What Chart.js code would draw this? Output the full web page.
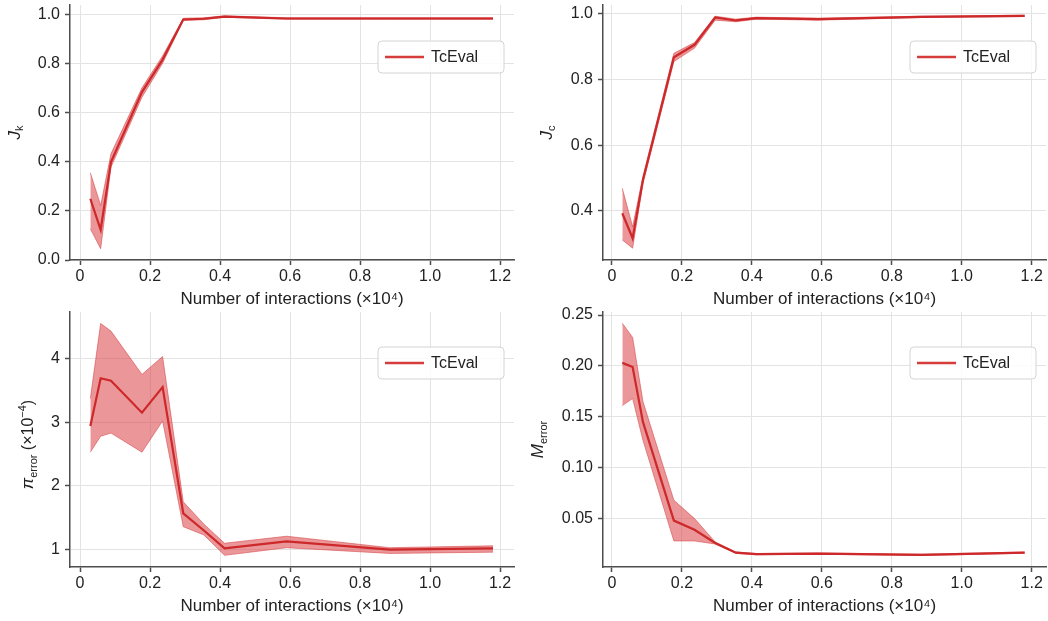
<!DOCTYPE html>
<html>
<head>
<meta charset="utf-8">
<script src="https://cdn.jsdelivr.net/npm/chart.js@4.4.1/dist/chart.umd.min.js"></script>
<style>
  body { margin: 0; background: #fff; }
  .panel { position: absolute; }
</style>
</head>
<body>
<div class="panel" style="left:0;top:0"><canvas id="jk" width="524" height="310"></canvas></div>
<div class="panel" style="left:530px;top:0"><canvas id="jc" width="518" height="310"></canvas></div>
<div class="panel" style="left:0;top:307px"><canvas id="pi" width="524" height="310"></canvas></div>
<div class="panel" style="left:530px;top:307px"><canvas id="merr" width="518" height="310"></canvas></div>
<script>
// interaction counts (x10^4) where every run was evaluated
const xValues = [0.0295, 0.059, 0.0885, 0.177, 0.236, 0.295, 0.354, 0.413, 0.59, 0.885, 1.18];
const xTicks = [0, 0.2, 0.4, 0.6, 0.8, 1.0, 1.2];

const jkMean  = [0.249, 0.123, 0.398, 0.683, 0.815, 0.978, 0.981, 0.990, 0.982, 0.982, 0.982];
const jkUpper = [0.355, 0.222, 0.432, 0.700, 0.830, 0.983, 0.985, 0.993, 0.985, 0.985, 0.985];
const jkLower = [0.127, 0.046, 0.378, 0.662, 0.800, 0.974, 0.977, 0.987, 0.979, 0.979, 0.979];
const jkTicks = [0, 0.2, 0.4, 0.6, 0.8, 1.0];

const jcMean  = [0.393, 0.317, 0.494, 0.867, 0.905, 0.988, 0.979, 0.986, 0.983, 0.990, 0.993];
const jcUpper = [0.469, 0.352, 0.505, 0.879, 0.912, 0.992, 0.983, 0.989, 0.986, 0.992, 0.995];
const jcLower = [0.312, 0.287, 0.483, 0.854, 0.895, 0.980, 0.975, 0.983, 0.980, 0.988, 0.991];
const jcTicks = [0.4, 0.6, 0.8, 1.0];

const piMean  = [2.94, 3.69, 3.65, 3.15, 3.55, 1.57, 1.30, 1.02, 1.13, 1.00, 1.02];
const piUpper = [3.37, 4.55, 4.43, 3.75, 4.03, 1.75, 1.40, 1.10, 1.21, 1.03, 1.06];
const piLower = [2.53, 2.78, 2.83, 2.53, 3.02, 1.36, 1.23, 0.91, 1.03, 0.94, 0.96];
const piTicks = [1, 2, 3, 4];

const mMean  = [0.203, 0.199, 0.145, 0.048, 0.039, 0.026, 0.0165, 0.0150, 0.0156, 0.0143, 0.0165];
const mUpper = [0.242, 0.228, 0.165, 0.068, 0.050, 0.027, 0.0172, 0.0156, 0.0162, 0.0150, 0.0171];
const mLower = [0.161, 0.168, 0.127, 0.028, 0.028, 0.025, 0.0158, 0.0144, 0.0150, 0.0137, 0.0159];
const mTicks = [0.05, 0.10, 0.15, 0.20, 0.25];

const seriesName = 'TcEval';
const xTitle = 'Number of interactions (×10⁴)';

const FONT = '"Liberation Sans", Arial, sans-serif';
const lineColor = 'rgb(205, 40, 42)';
const bandColor = 'rgba(220, 75, 80, 0.58)';
const bandEdge = 'rgba(214, 60, 62, 0.55)';
const spineColor = '#4d4d4d';
const gridColor = '#e3e3e3';

const pts = (ys) => ys.map((y, i) => ({ x: xValues[i], y: y }));

// rotated y-axis label built from pieces so subscripts/superscripts work
const yLabelPlugin = {
  id: 'yLabel',
  afterDraw(chart, args, opts) {
    if (!opts.parts) return;
    const ctx = chart.ctx;
    const area = chart.chartArea;
    ctx.save();
    let total = 0;
    opts.parts.forEach(p => { ctx.font = p.font; total += ctx.measureText(p.text).width; });
    ctx.translate(opts.x, (area.top + area.bottom) / 2 + (opts.shift || 0));
    ctx.rotate(-Math.PI / 2);
    ctx.fillStyle = '#222';
    ctx.textBaseline = 'alphabetic';
    let cx = -total / 2;
    opts.parts.forEach(p => {
      ctx.font = p.font;
      ctx.fillText(p.text, cx, p.dy || 0);
      cx += ctx.measureText(p.text).width;
    });
    ctx.restore();
  }
};

// boxed legend in the upper right corner of the plot area
const boxLegendPlugin = {
  id: 'boxLegend',
  afterDraw(chart, args, opts) {
    const ctx = chart.ctx;
    const area = chart.chartArea;
    const w = 126, h = 32;
    const x = area.right - 10 - w;
    const y = area.top + (opts.top || 36);
    ctx.save();
    ctx.beginPath();
    ctx.roundRect(x, y, w, h, 4);
    ctx.fillStyle = 'rgba(255,255,255,0.85)';
    ctx.fill();
    ctx.strokeStyle = '#d4d4d4';
    ctx.lineWidth = 1;
    ctx.stroke();
    ctx.beginPath();
    ctx.moveTo(x + 7, y + h / 2);
    ctx.lineTo(x + 46, y + h / 2);
    ctx.strokeStyle = 'rgb(215, 60, 60)';
    ctx.lineWidth = 2.5;
    ctx.stroke();
    ctx.fillStyle = '#222';
    ctx.font = '16px ' + FONT;
    ctx.textBaseline = 'middle';
    ctx.fillText(chart.data.datasets[0].label, x + 53, y + h / 2 + 1);
    ctx.restore();
  }
};

function makePanel(id, cfg) {
  return new Chart(document.getElementById(id), {
    type: 'line',
    data: {
      datasets: [
        { label: seriesName, data: pts(cfg.mean), borderColor: lineColor, borderWidth: 2.2, fill: false },
        { label: 'upper', data: pts(cfg.upper), borderColor: bandEdge, borderWidth: 1, backgroundColor: bandColor, fill: '+1' },
        { label: 'lower', data: pts(cfg.lower), borderColor: bandEdge, borderWidth: 1, fill: false }
      ]
    },
    options: {
      responsive: false,
      animation: false,
      devicePixelRatio: 1,
      layout: { padding: cfg.padding },
      elements: { point: { radius: 0 }, line: { tension: 0 } },
      scales: {
        x: {
          type: 'linear',
          min: cfg.xMin, max: cfg.xMax,
          afterBuildTicks: (axis) => { axis.ticks = xTicks.map(v => ({ value: v })); },
          afterFit: (axis) => { axis.height = 50; axis.paddingLeft = 0; axis.paddingRight = 0; },
          ticks: {
            font: { size: 16, family: FONT }, color: '#222', padding: 2, maxRotation: 0,
            callback: (v) => v === 0 ? '0' : v.toFixed(1)
          },
          grid: { color: gridColor, tickColor: spineColor, tickLength: 5, tickWidth: 1.5 },
          border: { color: spineColor, width: 1.5 },
          title: { display: true, text: xTitle, font: { size: 17, family: FONT }, color: '#222', padding: { top: 0, bottom: 0 } }
        },
        y: {
          min: cfg.yMin, max: cfg.yMax,
          afterBuildTicks: (axis) => { axis.ticks = cfg.yTicks.map(v => ({ value: v })); },
          afterFit: (axis) => { axis.width = cfg.yWidth; axis.paddingTop = 0; axis.paddingBottom = 0; },
          ticks: {
            font: { size: 16, family: FONT }, color: '#222', padding: 5,
            callback: (v) => v.toFixed(cfg.digits)
          },
          grid: { color: gridColor, tickColor: spineColor, tickLength: 5, tickWidth: 1.5 },
          border: { color: spineColor, width: 1.5 }
        }
      },
      plugins: {
        legend: { display: false },
        tooltip: { enabled: false },
        yLabel: cfg.yLabel,
        boxLegend: { top: cfg.legendTop }
      }
    },
    plugins: [yLabelPlugin, boxLegendPlugin]
  });
}

const italic = 'italic 17px ' + FONT;
const regular = '16px ' + FONT;
const small = '11px ' + FONT;

makePanel('jk', {
  mean: jkMean, upper: jkUpper, lower: jkLower, yTicks: jkTicks, digits: 1,
  xMin: -0.0286, xMax: 1.24, yMin: 0, yMax: 1.037,
  padding: { top: 5, right: 10, left: 0, bottom: 0 }, yWidth: 70, legendTop: 36,
  yLabel: { x: 20, parts: [{ text: 'J', font: italic }, { text: 'k', font: small, dy: 3 }] }
});

makePanel('jc', {
  mean: jcMean, upper: jcUpper, lower: jcLower, yTicks: jcTicks, digits: 1,
  xMin: -0.0257, xMax: 1.241, yMin: 0.251, yMax: 1.026,
  padding: { top: 5, right: 2, left: 0, bottom: 0 }, yWidth: 73, legendTop: 36,
  yLabel: { x: 22, parts: [{ text: 'J', font: italic }, { text: 'c', font: small, dy: 3 }] }
});

makePanel('pi', {
  mean: piMean, upper: piUpper, lower: piLower, yTicks: piTicks, digits: 0,
  xMin: -0.0286, xMax: 1.24, yMin: 0.727, yMax: 4.73,
  padding: { top: 5, right: 10, left: 0, bottom: 0 }, yWidth: 70, legendTop: 35,
  yLabel: { x: 33, shift: 5, parts: [
    { text: 'π', font: italic }, { text: 'error', font: small, dy: 4 },
    { text: ' (×10', font: regular }, { text: '−4', font: small, dy: -7 }, { text: ')', font: regular }
  ] }
});

makePanel('merr', {
  mean: mMean, upper: mUpper, lower: mLower, yTicks: mTicks, digits: 2,
  xMin: -0.0257, xMax: 1.241, yMin: 0.0024, yMax: 0.253,
  padding: { top: 5, right: 2, left: 0, bottom: 0 }, yWidth: 73, legendTop: 35,
  yLabel: { x: 13, parts: [{ text: 'M', font: italic }, { text: 'error', font: small, dy: 4 }] }
});
</script>
</body>
</html>
